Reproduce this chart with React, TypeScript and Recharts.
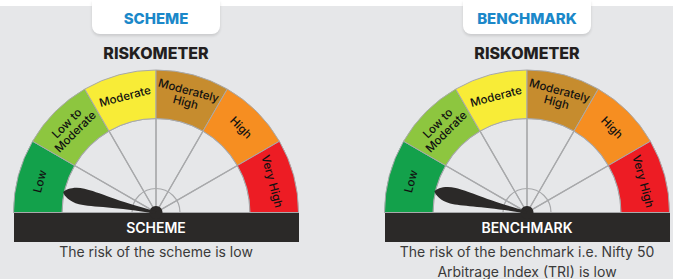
import React from 'react';
import { PieChart, Pie, Cell } from 'recharts';

// ---------- data ----------
const riskLevels = ['Low', 'Low to Moderate', 'Moderate', 'Moderately High', 'High', 'Very High'];
const riskLabelLines = [['Low'], ['Low to', 'Moderate'], ['Moderate'], ['Moderately', 'High'], ['High'], ['Very High']];
const segmentWeights = [1, 1, 1, 1, 1, 1];
const panelTitles = ['SCHEME', 'BENCHMARK'];
const panelCaptions = [
  ['The risk of the scheme is low'],
  ['The risk of the benchmark i.e. Nifty 50', 'Arbitrage Index (TRI) is low'],
];
// needle position on a 0..6 scale (one unit per risk level), both in "Low"
const needleValues = [0.41, 0.43];
const scaleMax = 6;

// ---------- styles ----------
const levelColors = ['#13a14b', '#8dc63f', '#f8ec37', '#c68c2e', '#f68e21', '#ed1c24'];
const GREY_BG = '#e6e7e9';
const LINE = '#a8a9ab';
const DARK = '#2b2928';
const BLUE = '#1b88c9';
const FONT = 'Inter, "Noto Sans", sans-serif';
const RAD = Math.PI / 180;

const W = 673;
const H = 279;
const centersX = [156, 527];
const CY = 212.5;
const R_OUT = 142.5;
const R_IN = 94;
const R_HUB_RING = 24;

const gaugeData = riskLevels.map((name, i) => ({ name, value: segmentWeights[i] }));
const spokeData = riskLevels.map((name, i) => ({ name, value: segmentWeights[i] }));

const renderSegLabel = (props: any) => {
  const { cx, cy, midAngle, innerRadius, outerRadius, index } = props;
  const r = (innerRadius + outerRadius) / 2 + 2;
  const x = cx + r * Math.cos(-midAngle * RAD);
  const y = cy + r * Math.sin(-midAngle * RAD);
  const rot = 90 - midAngle;
  const lines = riskLabelLines[index];
  return (
    <g transform={`translate(${x},${y}) rotate(${rot})`}>
      <text textAnchor="middle" fontFamily={FONT} fontSize={11.5} fontWeight={500} fill="#111">
        {lines.map((l, i) => (
          <tspan key={i} x={0} y={(i - (lines.length - 1) / 2) * 12} dy="0.35em">
            {l}
          </tspan>
        ))}
      </text>
    </g>
  );
};

const renderNeedle = (props: any) => {
  const { cx, cy, endAngle, index } = props;
  if (index !== 0) return null;
  const L = 95;
  const d = `M 0 -1.3 C 40 -2.6, ${L - 32} -8.5, ${L - 18} -8.3 C ${L - 8} -8, ${L - 2} -3.5, ${L} 0 C ${L - 2} 3.5, ${L - 9} 8, ${L - 20} 8 C ${L - 34} 8, 40 2.6, 0 1.3 Z`;
  return (
    <g transform={`translate(${cx},${cy}) rotate(${-endAngle})`}>
      <path d={d} fill={DARK} />
    </g>
  );
};

const Gauge = (cx: number, value: number, key: number) => [
  <Pie
    key={`spk${key}`}
    data={spokeData}
    dataKey="value"
    cx={cx}
    cy={CY}
    startAngle={180}
    endAngle={0}
    innerRadius={0}
    outerRadius={R_IN}
    stroke={LINE}
    strokeWidth={1.2}
    fill="none"
    isAnimationActive={false}
  >
    {spokeData.map((_, i) => (
      <Cell key={i} fill="none" stroke={LINE} />
    ))}
  </Pie>,
  <Pie
    key={`ring${key}`}
    data={[{ name: 'ring', value: 1 }]}
    dataKey="value"
    cx={cx}
    cy={CY}
    startAngle={180}
    endAngle={0}
    innerRadius={0}
    outerRadius={R_HUB_RING}
    isAnimationActive={false}
  >
    <Cell fill="none" stroke={LINE} strokeWidth={1.2} />
  </Pie>,
  <Pie
    key={`g${key}`}
    data={gaugeData}
    dataKey="value"
    cx={cx}
    cy={CY}
    startAngle={180}
    endAngle={0}
    innerRadius={R_IN}
    outerRadius={R_OUT}
    stroke={LINE}
    strokeWidth={1}
    label={renderSegLabel}
    labelLine={false}
    isAnimationActive={false}
  >
    {gaugeData.map((_, i) => (
      <Cell key={i} fill={levelColors[i]} stroke={LINE} />
    ))}
  </Pie>,
  <Pie
    key={`n${key}`}
    data={[{ name: 'risk', value }, { name: 'rest', value: scaleMax - value }]}
    dataKey="value"
    cx={cx}
    cy={CY}
    startAngle={180}
    endAngle={0}
    innerRadius={0}
    outerRadius={R_IN}
    label={renderNeedle}
    labelLine={false}
    isAnimationActive={false}
  >
    <Cell fill="none" stroke="none" />
    <Cell fill="none" stroke="none" />
  </Pie>,
  <Pie
    key={`hub${key}`}
    data={[{ name: 'hub', value: 1 }]}
    dataKey="value"
    cx={cx}
    cy={CY}
    startAngle={0}
    endAngle={360}
    innerRadius={0}
    outerRadius={6.5}
    isAnimationActive={false}
  >
    <Cell fill={DARK} stroke="none" />
  </Pie>,
];

export default function App() {
  return (
    <div
      style={{
        position: 'absolute',
        left: 0,
        top: 0,
        width: W,
        height: H,
        background: '#fff',
        overflow: 'hidden',
        fontFamily: FONT,
      }}
    >
      <div style={{ position: 'absolute', left: 0, top: 6, width: W, height: H - 6, background: GREY_BG }} />
      {centersX.map((cx, p) => (
        <React.Fragment key={p}>
          <div
            style={{
              position: 'absolute',
              left: cx - 64,
              top: 0,
              width: 128,
              height: 34,
              background: '#fff',
              borderRadius: '0 0 8px 8px',
              boxShadow: '0 2px 3px rgba(0,0,0,0.12)',
            }}
          />
          <div
            style={{
              position: 'absolute',
              left: cx - 80,
              top: 9,
              width: 160,
              textAlign: 'center',
              color: BLUE,
              fontSize: 15,
              fontWeight: 800,
              lineHeight: '20px',
            }}
          >
            {panelTitles[p]}
          </div>
          <div
            style={{
              position: 'absolute',
              left: cx - 80,
              top: 43,
              width: 160,
              textAlign: 'center',
              color: '#231f20',
              fontSize: 16,
              fontWeight: 800,
              lineHeight: '20px',
            }}
          >
            RISKOMETER
          </div>
          <div
            style={{
              position: 'absolute',
              left: cx - R_OUT,
              top: 213,
              width: R_OUT * 2,
              height: 29,
              background: DARK,
              color: '#fff',
              fontSize: 14,
              fontWeight: 600,
              lineHeight: '29px',
              textAlign: 'center',
            }}
          >
            {panelTitles[p]}
          </div>
          <div
            style={{
              position: 'absolute',
              left: cx - 150,
              top: 242,
              width: 300,
              textAlign: 'center',
              color: '#3a3a3a',
              fontSize: 14,
              lineHeight: '20px',
            }}
          >
            {panelCaptions[p].map((l, i) => (
              <div key={i}>{l}</div>
            ))}
          </div>
        </React.Fragment>
      ))}
      <div style={{ position: 'absolute', left: 0, top: 0 }}>
        <PieChart width={W} height={212 + 8} margin={{ top: 0, right: 0, bottom: 0, left: 0 }}>
          {centersX.map((cx, p) => Gauge(cx, needleValues[p], p))}
        </PieChart>
      </div>
    </div>
  );
}
